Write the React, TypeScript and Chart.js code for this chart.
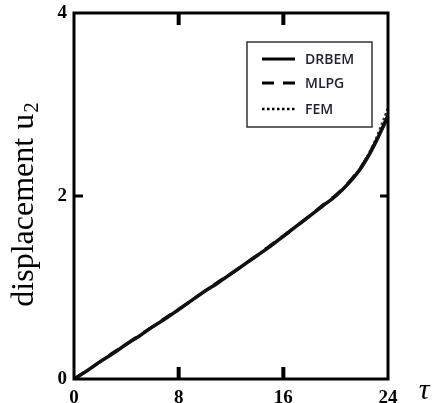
import React, { useEffect, useRef } from "react";
import { Chart, registerables } from "chart.js";

Chart.register(...registerables);

// Time steps and displacement histories for the three solution methods
const tau = [0, 1, 2, 3, 4, 5, 6, 7, 8, 9, 10, 11, 12, 13, 14, 15, 16, 17, 18, 19, 20, 21, 22, 23, 24];
const drbem = [0, 0.09, 0.19, 0.28, 0.38, 0.47, 0.57, 0.66, 0.76, 0.86, 0.96, 1.05, 1.15, 1.25, 1.35, 1.45, 1.56, 1.67, 1.78, 1.89, 2.0, 2.14, 2.32, 2.57, 2.88];
const mlpg = [0, 0.09, 0.19, 0.29, 0.38, 0.48, 0.57, 0.67, 0.76, 0.86, 0.96, 1.06, 1.15, 1.25, 1.35, 1.46, 1.56, 1.67, 1.78, 1.90, 2.01, 2.15, 2.33, 2.58, 2.86];
const fem = [0, 0.09, 0.19, 0.28, 0.38, 0.47, 0.57, 0.66, 0.76, 0.86, 0.96, 1.05, 1.15, 1.25, 1.35, 1.45, 1.56, 1.67, 1.78, 1.89, 2.0, 2.14, 2.33, 2.60, 2.96];

const seriesNames = ["DRBEM", "MLPG", "FEM"];
const xTicks = [0, 8, 16, 24];
const yTicks = [0, 2, 4];

const toPoints = (ys: number[]) => tau.map((t, i) => ({ x: t, y: ys[i] }));

const framePlugin = {
  id: "frame",
  afterDraw(chart: any) {
    const { ctx, chartArea: a, scales } = chart;
    const xs = scales.x;
    const ys = scales.y;
    ctx.save();

    // Plot frame
    ctx.strokeStyle = "#000";
    ctx.lineWidth = 3;
    ctx.strokeRect(a.left, a.top, a.right - a.left, a.bottom - a.top);

    // Inward tick marks on all four sides (inner ticks only)
    ctx.lineWidth = 4;
    for (const v of xTicks.slice(1, -1)) {
      const px = xs.getPixelForValue(v);
      ctx.beginPath();
      ctx.moveTo(px, a.bottom);
      ctx.lineTo(px, a.bottom - 12);
      ctx.moveTo(px, a.top);
      ctx.lineTo(px, a.top + 12);
      ctx.stroke();
    }
    ctx.lineWidth = 3;
    for (const v of yTicks.slice(1, -1)) {
      const py = ys.getPixelForValue(v);
      ctx.beginPath();
      ctx.moveTo(a.left, py);
      ctx.lineTo(a.left + 9, py);
      ctx.moveTo(a.right, py);
      ctx.lineTo(a.right - 8, py);
      ctx.stroke();
    }

    // Y axis title with subscript
    ctx.save();
    ctx.translate(25, 205);
    ctx.rotate(-Math.PI / 2);
    ctx.fillStyle = "#000";
    ctx.textBaseline = "middle";
    const mainFont = "32px 'Liberation Serif', 'Times New Roman', serif";
    const subFont = "21px 'Liberation Serif', 'Times New Roman', serif";
    ctx.font = mainFont;
    const main = "displacement u";
    const wMain = ctx.measureText(main).width;
    ctx.font = subFont;
    const wSub = ctx.measureText("2").width;
    const start = -(wMain + wSub) / 2;
    ctx.font = mainFont;
    ctx.textAlign = "left";
    ctx.fillText(main, start, 0);
    ctx.font = subFont;
    ctx.fillText("2", start + wMain + 1, 7);
    ctx.restore();

    // X axis title
    ctx.fillStyle = "#000";
    ctx.font = "italic 30px 'Liberation Serif', 'Times New Roman', serif";
    ctx.textAlign = "center";
    ctx.textBaseline = "middle";
    ctx.fillText("\u03c4", 424, 391);

    // Legend box
    const bx = 247, by = 42, bw = 125, bh = 85;
    ctx.fillStyle = "#fff";
    ctx.fillRect(bx, by, bw, bh);
    ctx.strokeStyle = "#333";
    ctx.lineWidth = 1.5;
    ctx.strokeRect(bx, by, bw, bh);
    const rows = [59, 83, 109];
    const dashes = [[], [12, 9], [2.5, 2.5]];
    seriesNames.forEach((name, i) => {
      ctx.strokeStyle = "#000";
      ctx.lineWidth = i === 2 ? 2.5 : 3;
      ctx.setLineDash(dashes[i]);
      ctx.beginPath();
      ctx.moveTo(262, rows[i]);
      ctx.lineTo(295, rows[i]);
      ctx.stroke();
      ctx.setLineDash([]);
      ctx.fillStyle = "#1e1e36";
      ctx.font = "600 14px 'Open Sans', 'Liberation Sans', sans-serif";
      ctx.textAlign = "left";
      ctx.textBaseline = "middle";
      ctx.fillText(name, 305, rows[i] + 1);
    });
    ctx.restore();
  },
};

export default function App() {
  const ref = useRef<HTMLCanvasElement | null>(null);

  useEffect(() => {
    if (!ref.current) return;
    const tickFont = { family: "'Liberation Serif', 'Times New Roman', serif", size: 19, weight: "bold" as const };
    const chart = new Chart(ref.current, {
      type: "line",
      data: {
        datasets: [
          { label: seriesNames[0], data: toPoints(drbem), borderColor: "#111", borderWidth: 3.5, pointRadius: 0, tension: 0.3 },
          { label: seriesNames[1], data: toPoints(mlpg), borderColor: "#111", borderWidth: 3, borderDash: [12, 9], pointRadius: 0, tension: 0.3 },
          { label: seriesNames[2], data: toPoints(fem), borderColor: "#333", borderWidth: 2.5, borderDash: [2.5, 2.5], pointRadius: 0, tension: 0.3 },
        ],
      },
      options: {
        responsive: false,
        animation: false,
        layout: { padding: { left: 0, top: 13, right: 47, bottom: 0 } },
        plugins: { legend: { display: false }, tooltip: { enabled: false } },
        scales: {
          x: {
            type: "linear",
            min: 0,
            max: 24,
            grid: { display: false, drawTicks: false },
            border: { display: false },
            afterFit: (s: any) => { s.height = 24; s.paddingLeft = 0; s.paddingRight = 0; },
            afterBuildTicks: (s: any) => { s.ticks = xTicks.map((v) => ({ value: v })); },
            ticks: { color: "#000", font: tickFont, padding: 8, maxRotation: 0 },
          },
          y: {
            type: "linear",
            min: 0,
            max: 4,
            grid: { display: false, drawTicks: false },
            border: { display: false },
            afterFit: (s: any) => { s.width = 74; s.paddingTop = 0; s.paddingBottom = 0; },
            afterBuildTicks: (s: any) => { s.ticks = yTicks.map((v) => ({ value: v })); },
            ticks: { color: "#000", font: tickFont, padding: 7 },
          },
        },
      },
      plugins: [framePlugin],
    });
    return () => chart.destroy();
  }, []);

  return (
    <div>
      <canvas
        ref={ref}
        width={435}
        height={403}
        style={{ display: "block", position: "fixed", left: 0, top: 0 }}
      />
    </div>
  );
}
